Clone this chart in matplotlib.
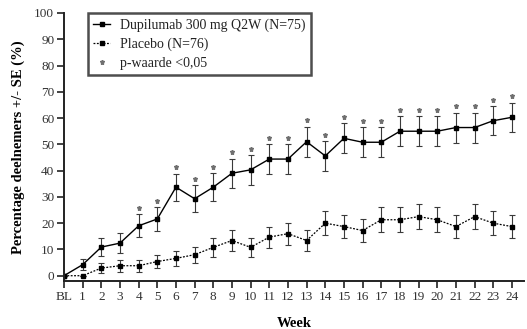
"""Dupilumab vs placebo responders over 24 weeks."""
import matplotlib
matplotlib.use('Agg')
import matplotlib.pyplot as plt
from matplotlib.lines import Line2D

weeks = list(range(25))
week_labels = ['BL'] + [str(w) for w in range(1, 25)]

dupi_mean = [0, 4.2, 10.9, 12.4, 19.0, 21.6, 33.7, 29.3, 33.7, 39.0, 40.3,
             44.4, 44.4, 51.0, 45.6, 52.3, 50.8, 50.8, 55.0, 55.0, 55.0,
             56.4, 56.4, 59.0, 60.3]
dupi_se = [0, 2.1, 3.5, 3.8, 4.3, 4.6, 5.2, 5.2, 5.3, 5.5, 5.6,
           5.7, 5.7, 5.7, 5.7, 5.7, 5.7, 5.7, 5.7, 5.7, 5.7,
           5.7, 5.7, 5.6, 5.6]

plac_mean = [0, 0, 2.9, 3.8, 3.8, 5.4, 6.6, 8.0, 10.8, 13.4, 10.8,
             14.7, 16.0, 13.4, 20.0, 18.7, 17.2, 21.3, 21.3, 22.5, 21.3,
             18.7, 22.5, 20.0, 18.7]
plac_se = [0, 0, 1.9, 2.2, 2.2, 2.6, 2.9, 3.1, 3.5, 3.9, 3.5,
           4.0, 4.2, 3.9, 4.6, 4.5, 4.3, 4.7, 4.7, 4.8, 4.7,
           4.5, 4.8, 4.6, 4.5]

signif_weeks = list(range(4, 25))

labels = ['Dupilumab 300 mg Q2W (N=75)', 'Placebo (N=76)', 'p-waarde <0,05']

plt.rcParams['font.family'] = ['Liberation Serif', 'DejaVu Serif']

fig = plt.figure(figsize=(5.27, 3.29), dpi=100, facecolor='white')
ax = fig.add_axes([0.1214, 0.146, 0.873, 0.8145])

ax.errorbar(weeks, dupi_mean, yerr=dupi_se, color='black', lw=1.0,
            marker='s', ms=3.5, ecolor='#3a3a3a', elinewidth=0.8,
            capsize=2.5, capthick=0.8)
ax.errorbar(weeks, plac_mean, yerr=plac_se, color='black', lw=0.9,
            ls=(0, (1.5, 1.2)), marker='s', ms=3.5, ecolor='#3a3a3a',
            elinewidth=0.8, capsize=2.5, capthick=0.8)

star_y = [dupi_mean[w] + dupi_se[w] + 2.4 for w in signif_weeks]
ax.plot(signif_weeks, star_y, ls='none', marker='*', ms=3.6,
        color='#707070', mec='#707070')

ax.set_xlim(0, 24.65)
ax.set_ylim(-2, 100)
ax.set_xticks(weeks)
ax.set_xticklabels(week_labels)
ax.set_yticks(range(0, 101, 10))
ax.tick_params(axis='both', labelsize=9.5, width=1.2, length=5, pad=2,
               color='#222222', labelcolor='#333333')
for s in ['top', 'right']:
    ax.spines[s].set_visible(False)
for s in ['left', 'bottom']:
    ax.spines[s].set_linewidth(1.4)
    ax.spines[s].set_color('#222222')

ax.set_xlabel('Week', fontsize=10.5, fontweight='bold', labelpad=10)
ax.set_ylabel('Percentage deelnemers +/- SE (%)', fontsize=10.5,
              fontweight='bold', labelpad=7)

handles = [
    Line2D([], [], color='black', lw=1.0, marker='s', ms=3.5),
    Line2D([], [], color='black', lw=0.9, ls=(0, (1.5, 1.2)), marker='s', ms=3.5),
    Line2D([], [], color='#707070', ls='none', marker='*', ms=3.6),
]
leg = ax.legend(handles, labels, loc='upper left', bbox_to_anchor=(0.052, 1.0),
                fontsize=10, frameon=True, fancybox=False, edgecolor='#222222',
                handlelength=1.2, handletextpad=0.7, borderpad=0.4,
                labelspacing=0.4, borderaxespad=0)
leg.get_frame().set_linewidth(1.8)
for t in leg.get_texts():
    t.set_color('#222222')

fig.savefig('out.png', dpi=100, facecolor='white')
